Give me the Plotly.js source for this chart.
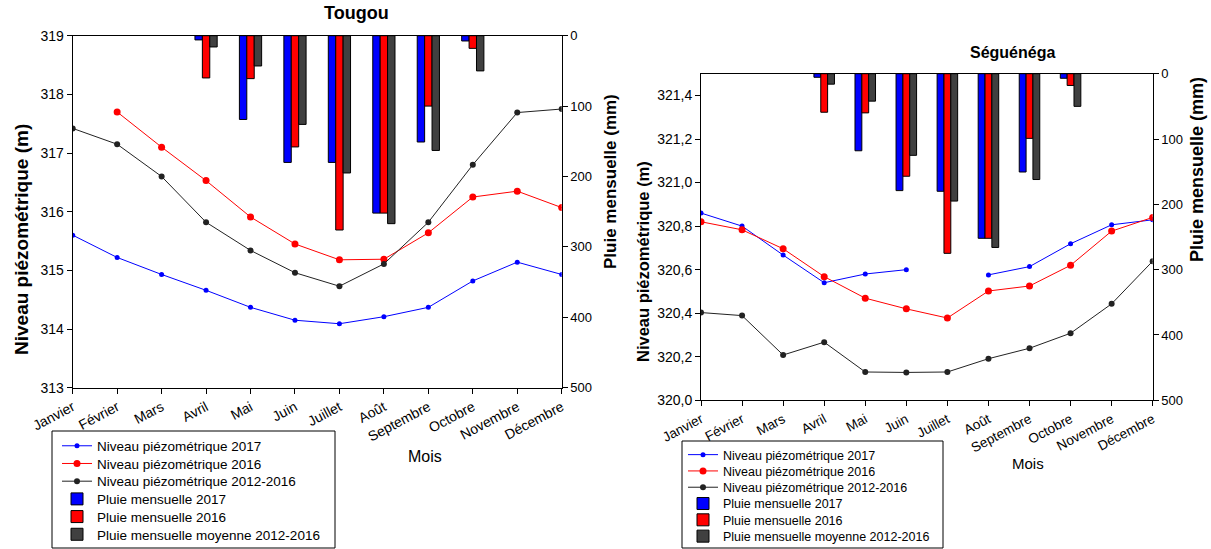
<!DOCTYPE html>
<html>
<head>
<meta charset="utf-8">
<script src="https://cdn.plot.ly/plotly-3.0.1.min.js"></script>
<style>html,body{margin:0;padding:0;background:#fff;overflow:hidden;}#chart{width:1211px;height:549px;}</style>
</head>
<body>
<div id="chart"></div>
<script>
const months = ['Janvier','Février','Mars','Avril','Mai','Juin','Juillet','Août','Septembre','Octobre','Novembre','Décembre'];

// Tougou
const tgNiv2017 = [315.60,315.22,314.93,314.66,314.37,314.15,314.09,314.21,314.37,314.82,315.14,314.93];
const tgNiv2016 = [null,317.70,317.10,316.53,315.91,315.45,315.18,315.19,315.64,316.25,316.35,316.07];
const tgNivMoy = [317.42,317.15,316.60,315.82,315.34,314.96,314.73,315.11,315.82,316.80,317.69,317.75];
const tgPluie2017 = [null,null,null,6,119,180,180,252,151,7.5,null,null];
const tgPluie2016 = [null,null,null,60,61,158,276,252,100,18,null,null];
const tgPluieMoy = [null,null,null,16,43,126,195,267,163,50,null,null];

// Séguénéga
const sgNiv2017 = [320.86,320.80,320.667,320.54,320.58,320.60,null,320.576,320.614,320.719,320.806,320.829];
const sgNiv2016 = [320.82,320.783,320.696,320.568,320.469,320.42,320.378,320.502,320.525,320.62,320.777,320.84];
const sgNivMoy = [320.403,320.389,320.208,320.267,320.13,320.128,320.13,320.191,320.239,320.308,320.443,320.639];
const sgPluie2017 = [null,null,null,5.5,118,179,180,252,150.5,7,null,null];
const sgPluie2016 = [null,null,null,59,60,157,275,252,99,18,null,null];
const sgPluieMoy = [null,null,null,16,42,125,195,266,162,50,null,null];

const seriesNames = ['Niveau piézométrique 2017','Niveau piézométrique 2016','Niveau piézométrique 2012-2016',
  'Pluie mensuelle 2017','Pluie mensuelle 2016','Pluie mensuelle moyenne 2012-2016'];

const W = 1211, H = 549;
const fx = p => p / W;
const fy = p => 1 - p / H;
const FONT = 'Liberation Sans, Arial, sans-serif';
const lineColors = ['#0000ff','#ff0000','#222222'];
const barColors = ['#0000ff','#ff0000','#404040'];
const markerSizes = [5,7,6];

// legend ids: one entry per legend so that the spacing can follow the reference
const legendIds = ['legend','legend2','legend3','legend4','legend5','legend6',
  'legend7','legend8','legend9','legend10','legend11','legend12'];

function lineTrace(y, i, xa, ya, lg) {
  return {x: months, y: y, name: seriesNames[i], type: 'scatter', mode: 'lines+markers',
    xaxis: xa, yaxis: ya, legend: lg, showlegend: true,
    line: {color: lineColors[i], width: 1}, marker: {color: lineColors[i], size: markerSizes[i]}};
}
function barTrace(y, i, xa, ya, lg) {
  return {x: months, y: y, name: seriesNames[i+3], type: 'bar', xaxis: xa, yaxis: ya, legend: lg,
    showlegend: true, marker: {color: barColors[i], line: {color: '#000', width: 1}}};
}

const data = [
  lineTrace(tgNiv2017,0,'x','y',legendIds[0]),
  lineTrace(tgNiv2016,1,'x','y',legendIds[1]),
  lineTrace(tgNivMoy,2,'x','y',legendIds[2]),
  barTrace(tgPluie2017,0,'x','y2',legendIds[3]),
  barTrace(tgPluie2016,1,'x','y2',legendIds[4]),
  barTrace(tgPluieMoy,2,'x','y2',legendIds[5]),
  lineTrace(sgNiv2017,0,'x2','y3',legendIds[6]),
  lineTrace(sgNiv2016,1,'x2','y3',legendIds[7]),
  lineTrace(sgNivMoy,2,'x2','y3',legendIds[8]),
  barTrace(sgPluie2017,0,'x2','y4',legendIds[9]),
  barTrace(sgPluie2016,1,'x2','y4',legendIds[10]),
  barTrace(sgPluieMoy,2,'x2','y4',legendIds[11])
];

const axBase = {showline: true, linecolor: '#000', linewidth: 1, ticks: 'outside', ticklen: 5,
  tickcolor: '#000', showgrid: false, zeroline: false, color: '#000', automargin: false};

const layout = {
  width: W, height: H,
  showlegend: true,
  margin: {l: 0, r: 0, t: 0, b: 0, autoexpand: false},
  paper_bgcolor: '#fff', plot_bgcolor: '#fff',
  font: {family: FONT, color: '#000', size: 13},
  separators: ',.',
  barmode: 'group', bargap: 0.5, bargroupgap: 0,
  xaxis: Object.assign({}, axBase, {domain: [fx(72.7), fx(561.7)], anchor: 'y', type: 'category',
    range: [0, 11], mirror: true, tickangle: -28, tickfont: {size: 14}}),
  yaxis: Object.assign({}, axBase, {domain: [fy(387.7), fy(35.7)], anchor: 'x', range: [313, 319],
    dtick: 1, tickfont: {size: 14}}),
  yaxis2: Object.assign({}, axBase, {overlaying: 'y', side: 'right', anchor: 'x', range: [500, 0],
    dtick: 100, tickfont: {size: 13}}),
  xaxis2: Object.assign({}, axBase, {domain: [fx(701), fx(1152.7)], anchor: 'y3', type: 'category',
    range: [0, 11], mirror: true, tickangle: -28, tickfont: {size: 13.5}}),
  yaxis3: Object.assign({}, axBase, {domain: [fy(400.3), fy(73.7)], anchor: 'x2', range: [320, 321.5],
    dtick: 0.2, tick0: 320, tickformat: '.1f', tickfont: {size: 14}}),
  yaxis4: Object.assign({}, axBase, {overlaying: 'y3', side: 'right', anchor: 'x2', range: [500, 0],
    dtick: 100, tickfont: {size: 13}}),
  shapes: [
    {type: 'rect', xref: 'paper', yref: 'paper', x0: fx(52), x1: fx(335), y0: fy(431), y1: fy(548),
      line: {color: '#000', width: 1}, fillcolor: 'rgba(0,0,0,0)', layer: 'above'},
    {type: 'rect', xref: 'paper', yref: 'paper', x0: fx(682), x1: fx(943), y0: fy(441), y1: fy(548),
      line: {color: '#000', width: 1}, fillcolor: 'rgba(0,0,0,0)', layer: 'above'}
  ],
  annotations: [
    {text: '<b>Tougou</b>', x: fx(356), y: fy(13), xref: 'paper', yref: 'paper', showarrow: false,
      font: {size: 18}, xanchor: 'center', yanchor: 'middle'},
    {text: '<b>Séguénéga</b>', x: fx(1012), y: fy(52), xref: 'paper', yref: 'paper', showarrow: false,
      font: {size: 16}, xanchor: 'center', yanchor: 'middle'},
    {text: '<b>Niveau piézométrique (m)</b>', x: fx(21), y: fy(240), xref: 'paper', yref: 'paper',
      showarrow: false, textangle: -90, font: {size: 19}, xanchor: 'center', yanchor: 'middle'},
    {text: '<b>Pluie mensuelle (mm)</b>', x: fx(610), y: fy(182), xref: 'paper', yref: 'paper',
      showarrow: false, textangle: -90, font: {size: 17}, xanchor: 'center', yanchor: 'middle'},
    {text: '<b>Niveau piézométrique (m)</b>', x: fx(643), y: fy(262), xref: 'paper', yref: 'paper',
      showarrow: false, textangle: -90, font: {size: 16.5}, xanchor: 'center', yanchor: 'middle'},
    {text: '<b>Pluie mensuelle (mm)</b>', x: fx(1197), y: fy(170), xref: 'paper', yref: 'paper',
      showarrow: false, textangle: -90, font: {size: 18}, xanchor: 'center', yanchor: 'middle'},
    {text: 'Mois', x: fx(425), y: fy(456), xref: 'paper', yref: 'paper', showarrow: false,
      font: {size: 16}, xanchor: 'center', yanchor: 'middle'},
    {text: 'Mois', x: fx(1028), y: fy(463), xref: 'paper', yref: 'paper', showarrow: false,
      font: {size: 15}, xanchor: 'center', yanchor: 'middle'}
  ]
};

// legend entry placement (one legend per entry)
const legendGeom = [
  {left: 57, top: 446, step: 17.7, size: 13.5},
  {left: 683, top: 455, step: 16.3, size: 12.5}
];
legendIds.forEach((id, k) => {
  const g = legendGeom[k < 6 ? 0 : 1];
  const j = k % 6;
  layout[id] = {visible: true, x: fx(g.left), y: fy(g.top + j * g.step), xanchor: 'left', yanchor: 'middle',
    borderwidth: 0, bgcolor: 'rgba(0,0,0,0)', font: {size: g.size}};
});

Plotly.newPlot('chart', data, layout, {displayModeBar: false, staticPlot: true});
</script>
</body>
</html>
